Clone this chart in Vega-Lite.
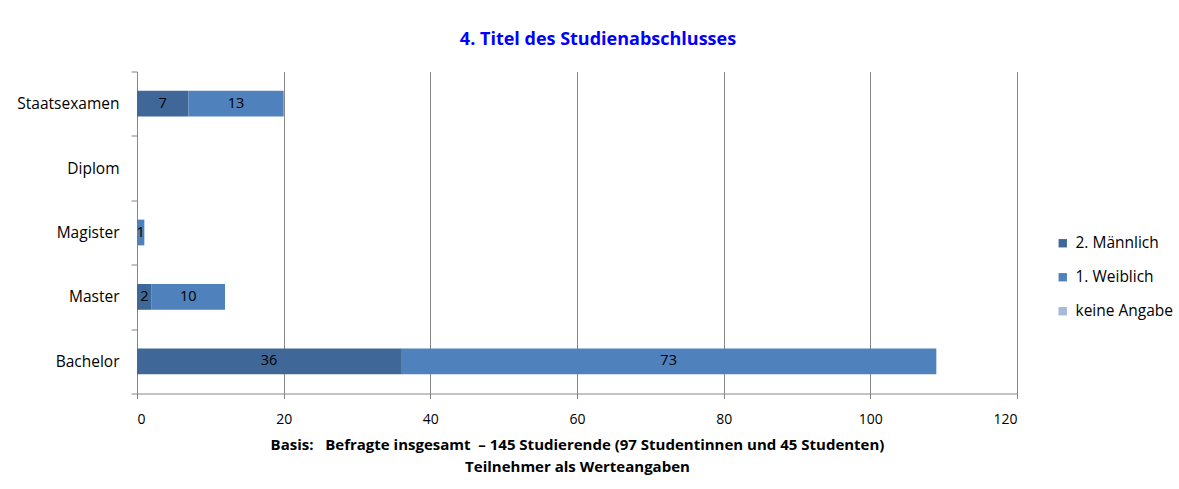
{
  "$schema": "https://vega.github.io/schema/vega-lite/v6.json",
  "width": 880,
  "height": 322,
  "autosize": {"type": "none"},
  "padding": {"left": 137, "top": 71.5, "right": 162, "bottom": 95.5},
  "background": "white",
  "config": {
    "font": "Open Sans",
    "view": {"stroke": null}
  },
  "title": {
    "text": "4. Titel des Studienabschlusses",
    "color": "#0000FF",
    "fontSize": 18,
    "fontWeight": "bold",
    "font": "Open Sans",
    "anchor": "middle",
    "frame": "group",
    "dx": 21,
    "offset": 16
  },
  "data": {
    "values": [
      {"abschluss": "Staatsexamen", "geschlecht": "2. Männlich", "anzahl": 7},
      {"abschluss": "Staatsexamen", "geschlecht": "1. Weiblich", "anzahl": 13},
      {"abschluss": "Staatsexamen", "geschlecht": "keine Angabe", "anzahl": 0},
      {"abschluss": "Diplom", "geschlecht": "2. Männlich", "anzahl": 0},
      {"abschluss": "Diplom", "geschlecht": "1. Weiblich", "anzahl": 0},
      {"abschluss": "Diplom", "geschlecht": "keine Angabe", "anzahl": 0},
      {"abschluss": "Magister", "geschlecht": "2. Männlich", "anzahl": 0},
      {"abschluss": "Magister", "geschlecht": "1. Weiblich", "anzahl": 1},
      {"abschluss": "Magister", "geschlecht": "keine Angabe", "anzahl": 0},
      {"abschluss": "Master", "geschlecht": "2. Männlich", "anzahl": 2},
      {"abschluss": "Master", "geschlecht": "1. Weiblich", "anzahl": 10},
      {"abschluss": "Master", "geschlecht": "keine Angabe", "anzahl": 0},
      {"abschluss": "Bachelor", "geschlecht": "2. Männlich", "anzahl": 36},
      {"abschluss": "Bachelor", "geschlecht": "1. Weiblich", "anzahl": 73},
      {"abschluss": "Bachelor", "geschlecht": "keine Angabe", "anzahl": 0}
    ]
  },
  "transform": [
    {
      "stack": "anzahl",
      "groupby": ["abschluss"],
      "sort": [{"field": "geschlecht", "order": "descending"}],
      "as": ["v0", "v1"]
    }
  ],
  "encoding": {
    "y": {
      "field": "abschluss",
      "type": "nominal",
      "sort": ["Staatsexamen", "Diplom", "Magister", "Master", "Bachelor"],
      "scale": {"paddingInner": 0, "paddingOuter": 0},
      "axis": {
        "title": null,
        "tickBand": "extent",
        "domainColor": "#868686",
        "tickColor": "#868686",
        "tickSize": 6,
        "labelPadding": 12,
        "labelFontSize": 15.5,
        "labelColor": "#000000",
        "labelFont": "Open Sans",
        "grid": false
      }
    }
  },
  "layer": [
    {
      "mark": {"type": "bar", "height": {"band": 0.4}},
      "encoding": {
        "x": {
          "field": "v0",
          "type": "quantitative",
          "scale": {"domain": [0, 120], "nice": false},
          "axis": {
            "values": [0, 20, 40, 60, 80, 100, 120],
            "grid": true,
            "gridColor": "#868686",
            "gridOpacity": 1,
            "domainColor": "#868686",
            "tickColor": "#868686",
            "tickSize": 5,
            "labelPadding": 14,
            "labelFontSize": 14,
            "labelColor": "#000000",
            "labelFont": "Open Sans",
            "title": [
              "Basis:\u00a0\u00a0 Befragte insgesamt\u00a0 – 145 Studierende (97 Studentinnen und 45 Studenten)",
              "Teilnehmer als Werteangaben"
            ],
            "titleFont": "Open Sans",
            "titleFontSize": 15,
            "titleFontWeight": "bold",
            "titleColor": "#000000",
            "titleLineHeight": 22,
            "titlePadding": 11
          }
        },
        "x2": {"field": "v1"},
        "color": {
          "field": "geschlecht",
          "type": "nominal",
          "scale": {
            "domain": ["2. Männlich", "1. Weiblich", "keine Angabe"],
            "range": ["#3F6899", "#4F81BD", "#A7B9D9"]
          },
          "legend": {
            "title": null,
            "orient": "none",
            "legendX": 918,
            "legendY": 164,
            "padding": 0,
            "symbolType": "square",
            "symbolSize": 70,
            "symbolStrokeWidth": 0,
            "labelFontSize": 15.5,
            "labelFont": "Open Sans",
            "labelColor": "#000000",
            "rowPadding": 17,
            "labelOffset": 5
          }
        }
      }
    },
    {
      "transform": [
        {"filter": "datum.anzahl > 0"},
        {"calculate": "(datum.v0 + datum.v1) / 2", "as": "mitte"}
      ],
      "mark": {"type": "text", "fontSize": 14.5, "color": "#000000", "font": "Open Sans", "baseline": "middle"},
      "encoding": {
        "x": {"field": "mitte", "type": "quantitative"},
        "text": {"field": "anzahl", "type": "quantitative"}
      }
    }
  ]
}
